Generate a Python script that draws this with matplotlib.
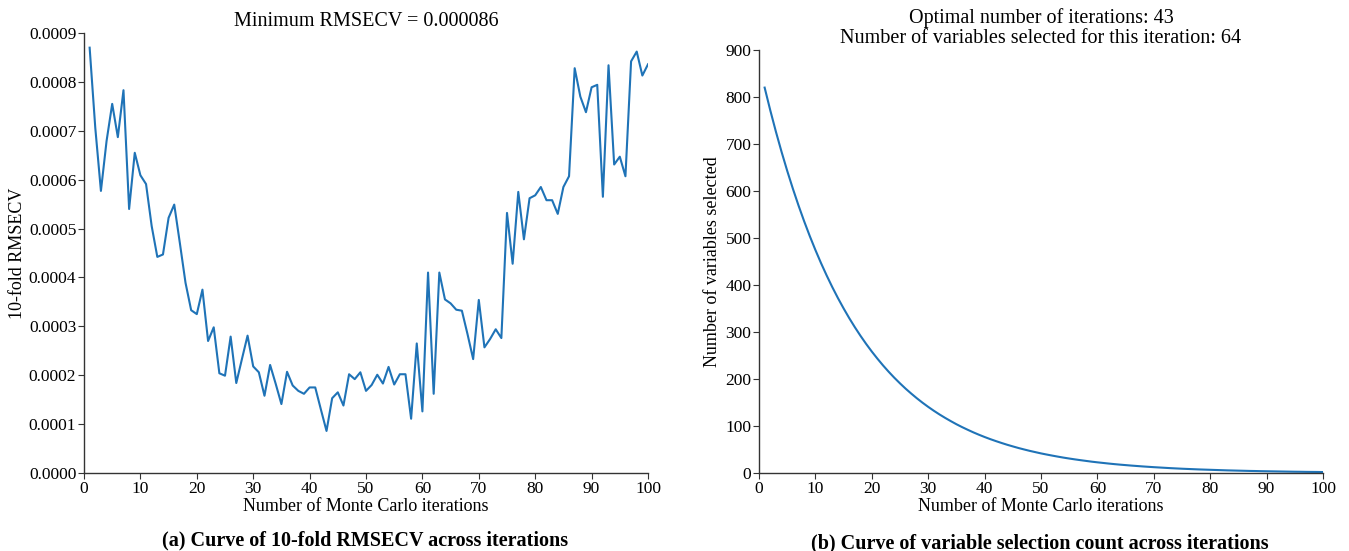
import numpy as np
import matplotlib.pyplot as plt
from matplotlib.ticker import FormatStrFormatter

# ── data ─────────────────────────────────────────────────────────
iterations = list(range(1, 101))

rmsecv = [
    0.000870, 0.000706, 0.000577, 0.000679, 0.000755, 0.000687, 0.000783, 0.000540, 0.000655, 0.000609,
    0.000591, 0.000505, 0.000442, 0.000447, 0.000522, 0.000549, 0.000470, 0.000389, 0.000333, 0.000325,
    0.000375, 0.000270, 0.000298, 0.000204, 0.000199, 0.000279, 0.000184, 0.000233, 0.000281, 0.000218,
    0.000206, 0.000158, 0.000221, 0.000182, 0.000141, 0.000207, 0.000179, 0.000168, 0.000162, 0.000175,
    0.000175, 0.000130, 0.000086, 0.000153, 0.000165, 0.000138, 0.000202, 0.000192, 0.000206, 0.000168,
    0.000180, 0.000201, 0.000183, 0.000217, 0.000181, 0.000202, 0.000202, 0.000111, 0.000265, 0.000126,
    0.000410, 0.000162, 0.000410, 0.000355, 0.000347, 0.000334, 0.000332, 0.000284, 0.000233, 0.000354,
    0.000257, 0.000274, 0.000294, 0.000276, 0.000532, 0.000428, 0.000575, 0.000478, 0.000562, 0.000568,
    0.000585, 0.000558, 0.000558, 0.000530, 0.000585, 0.000607, 0.000828, 0.000770, 0.000738, 0.000789,
    0.000794, 0.000565, 0.000834, 0.000631, 0.000647, 0.000607, 0.000842, 0.000862, 0.000813, 0.000836,
]

n_selected = [
    820.0, 771.6, 726.1, 683.3, 643.0, 605.1, 569.4, 535.8, 504.2, 474.5,
    446.5, 420.2, 395.4, 372.1, 350.2, 329.5, 310.1, 291.8, 274.6, 258.4,
    243.2, 228.8, 215.3, 202.6, 190.7, 179.4, 168.9, 158.9, 149.5, 140.7,
    132.4, 124.6, 117.3, 110.4, 103.8, 97.7, 92.0, 86.5, 81.4, 76.6,
    72.1, 67.9, 63.9, 60.1, 56.6, 53.2, 50.1, 47.1, 44.4, 41.7,
    39.3, 37.0, 34.8, 32.7, 30.8, 29.0, 27.3, 25.7, 24.1, 22.7,
    21.4, 20.1, 18.9, 17.8, 16.8, 15.8, 14.9, 14.0, 13.2, 12.4,
    11.7, 11.0, 10.3, 9.7, 9.1, 8.6, 8.1, 7.6, 7.2, 6.8,
    6.4, 6.0, 5.6, 5.3, 5.0, 4.7, 4.4, 4.2, 3.9, 3.7,
    3.5, 3.3, 3.1, 2.9, 2.7, 2.6, 2.4, 2.3, 2.2, 2.0,
]

best_iter = 43
best_nvar = 64
min_rmsecv = 0.000086

# ── style ────────────────────────────────────────────────────────
plt.rcParams['font.family'] = ['Liberation Serif', 'DejaVu Serif']
plt.rcParams['font.size'] = 13
LINE_C = '#1f73b7'

W, H = 1349, 551
fig = plt.figure(figsize=(W / 100, H / 100), dpi=100)

def px_axes(x0, y0, x1, y1):
    return fig.add_axes([x0 / W, 1 - y1 / H, (x1 - x0) / W, (y1 - y0) / H])

ax1 = px_axes(84, 33, 648, 473)
ax2 = px_axes(759, 50, 1323, 473)

for ax in (ax1, ax2):
    ax.spines['top'].set_visible(False)
    ax.spines['right'].set_visible(False)
    for s in ('left', 'bottom'):
        ax.spines[s].set_color('#333333')
        ax.spines[s].set_linewidth(1.0)
    ax.tick_params(axis='both', labelsize=12.5, length=4, width=0.8,
                   color='#333333', pad=1.5)
    ax.set_xlim(0, 100)
    ax.set_xticks(np.arange(0, 101, 10))
    ax.set_xlabel('Number of Monte Carlo iterations', fontsize=13, labelpad=1)

# (a) RMSECV
ax1.plot(iterations, rmsecv, color=LINE_C, lw=1.5)
ax1.set_ylim(0, 0.0009)
ax1.set_yticks(np.arange(0, 0.00091, 0.0001))
ax1.yaxis.set_major_formatter(FormatStrFormatter('%.4f'))
ax1.set_ylabel('10-fold RMSECV', fontsize=13, labelpad=2)
ax1.set_title(f'Minimum RMSECV = {min_rmsecv:.6f}', fontsize=14.5, pad=5)

# (b) variable count
ax2.plot(iterations, n_selected, color=LINE_C, lw=1.5)
ax2.set_ylim(0, 900)
ax2.set_yticks(np.arange(0, 901, 100))
ax2.set_ylabel('Number of variables selected', fontsize=13, labelpad=3)
ax2.set_title(f'Optimal number of iterations: {best_iter}\n'
              f'Number of variables selected for this iteration: {best_nvar}',
              fontsize=14.5, pad=5, linespacing=1.05)

fig.text(365 / W, 1 - 540 / H, '(a) Curve of 10-fold RMSECV across iterations',
         ha='center', va='center', fontsize=14.5, fontweight='bold')
fig.text(1040 / W, 1 - 543 / H, '(b) Curve of variable selection count across iterations',
         ha='center', va='center', fontsize=14.5, fontweight='bold')

fig.savefig('out.png', dpi=100)
